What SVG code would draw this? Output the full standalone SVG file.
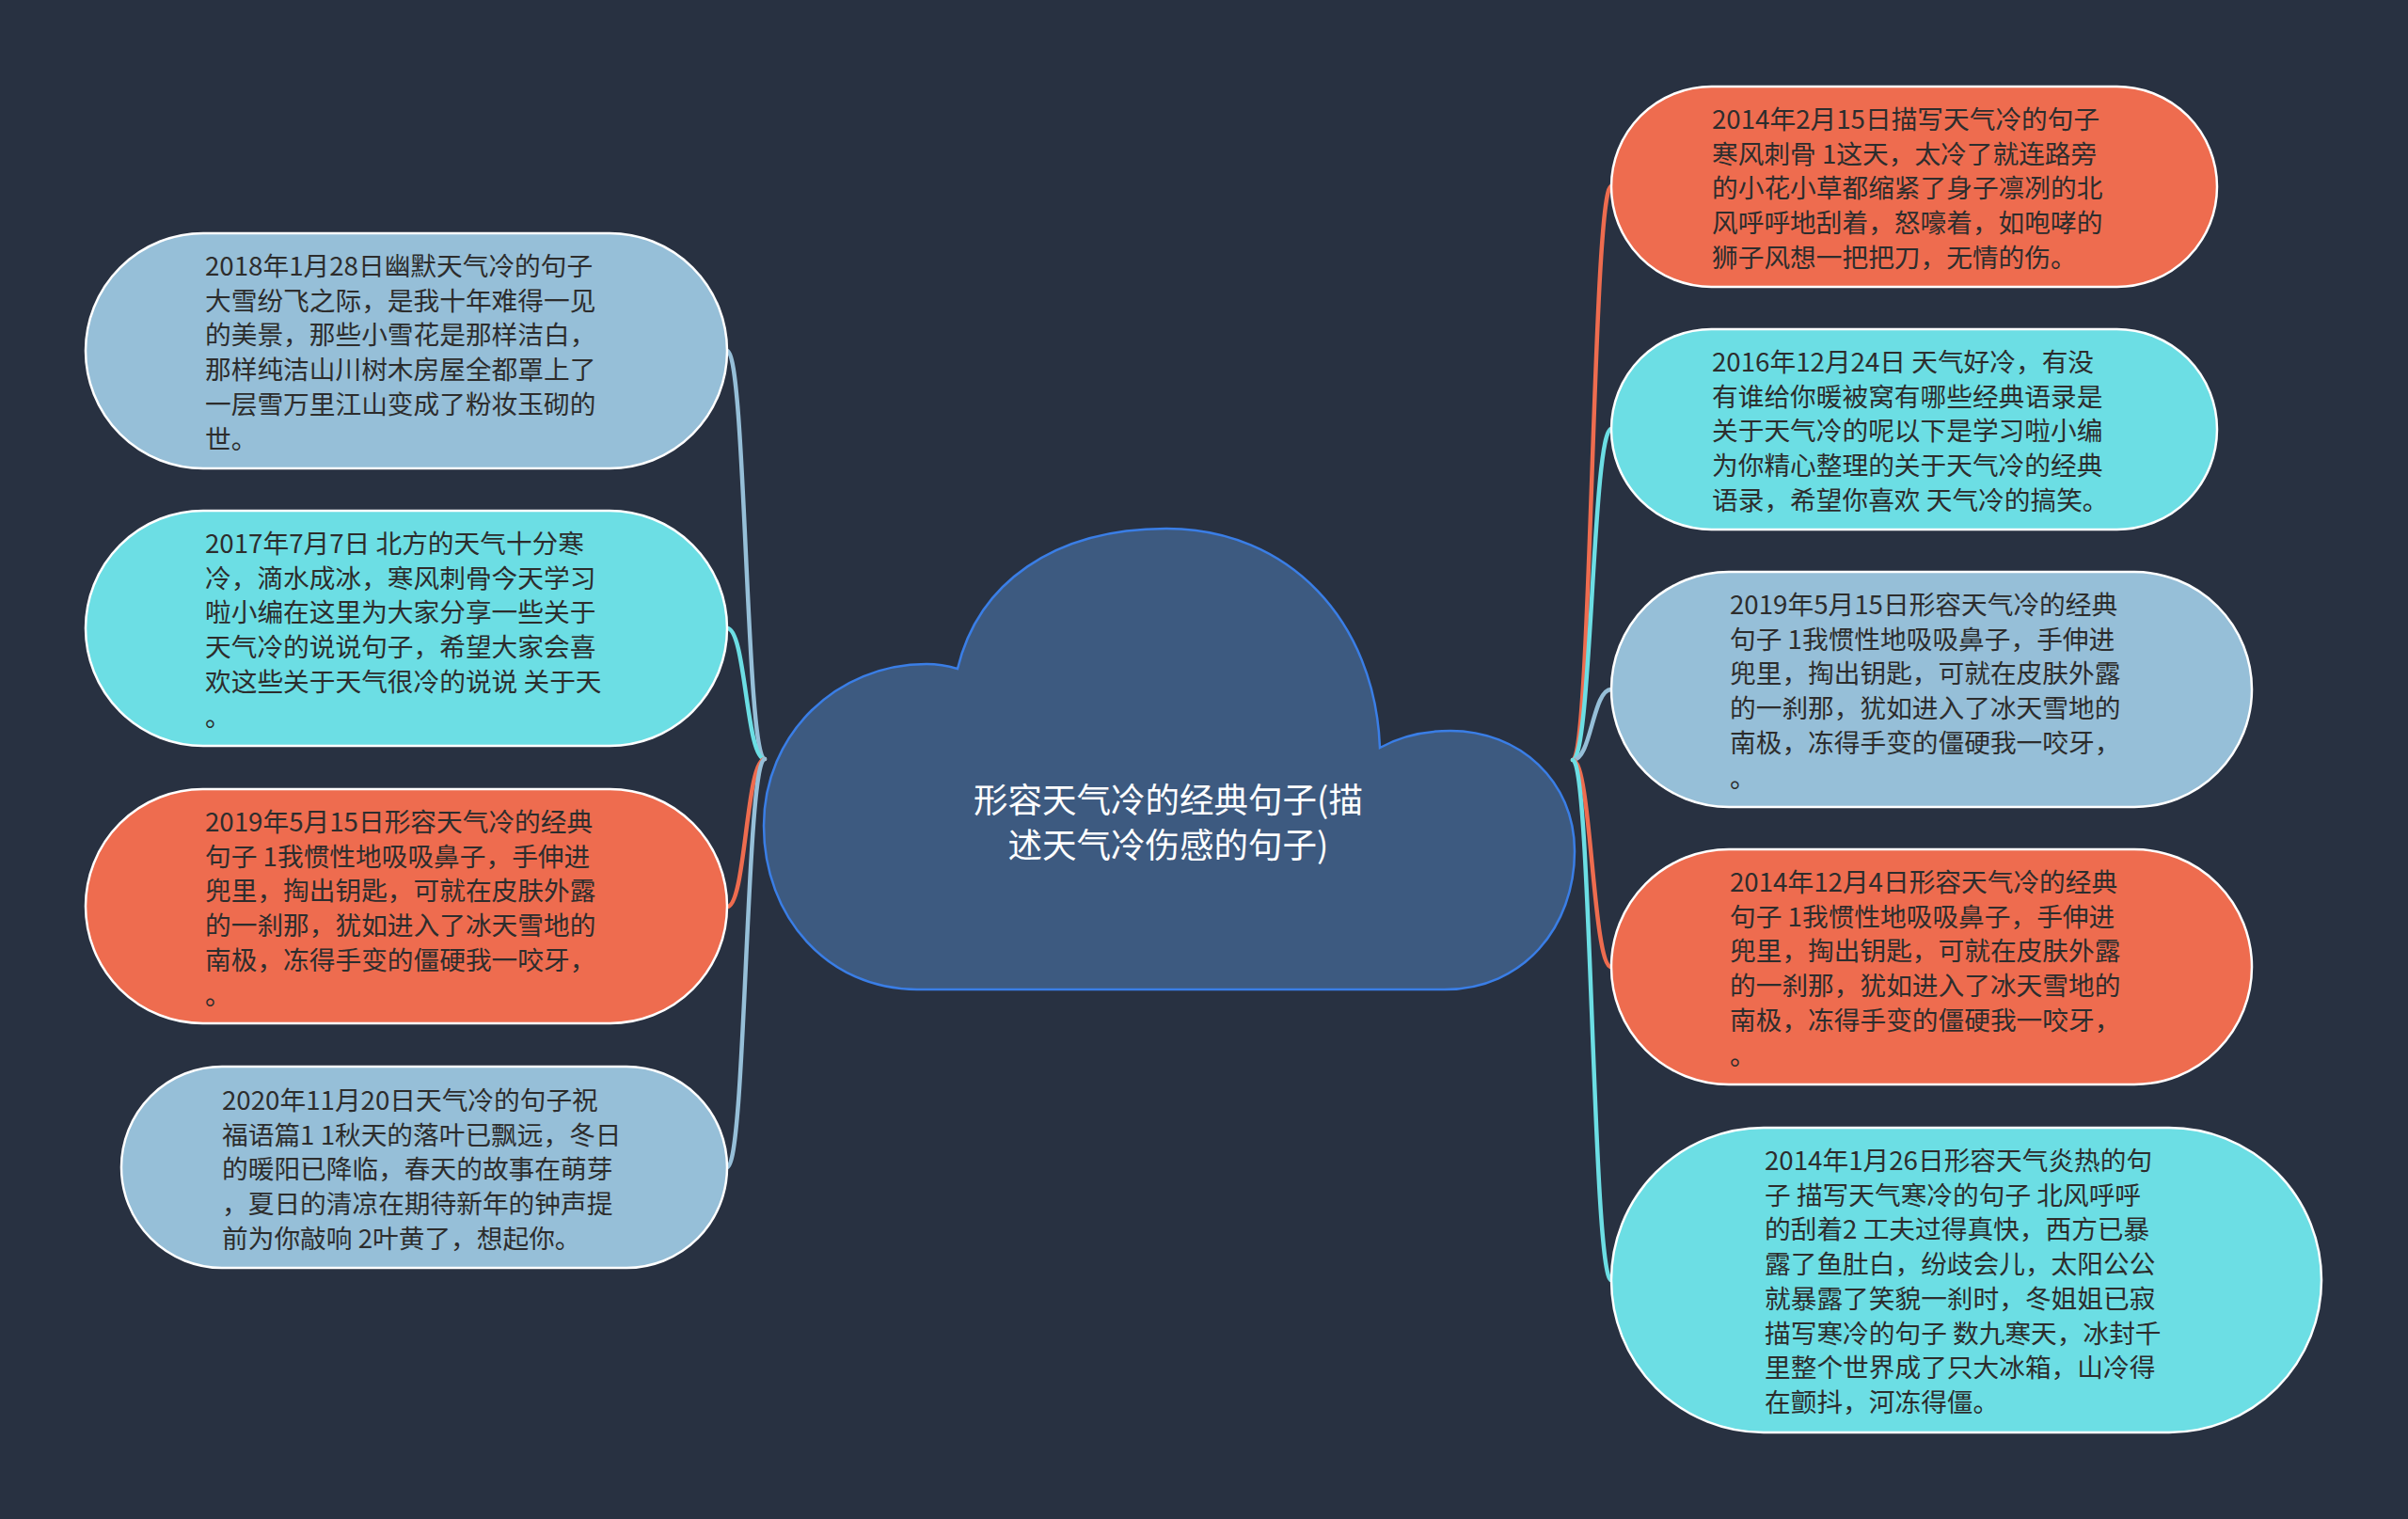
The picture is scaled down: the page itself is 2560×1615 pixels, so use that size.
<svg xmlns="http://www.w3.org/2000/svg" width="2560" height="1615" viewBox="0 0 2560 1615">
<style>
.bg{fill:#283141}
.node{stroke:#ffffff;stroke-width:2.5}
.blue{fill:#96bfd8}
.cyan{fill:#6cdee4}
.orange{fill:#ee6c4f}
.t{font-family:"Noto Sans CJK SC","Noto Sans",sans-serif;font-size:27.7px;fill:#2d2d2d}
.ct{font-family:"Noto Sans CJK SC","Noto Sans",sans-serif;font-size:36.5px;fill:#ffffff;text-anchor:middle}
.c{fill:none;stroke-width:4.5;stroke-linecap:round}
.cb{stroke:#96bfd8}.cc{stroke:#6cdee4}.co{stroke:#ee6c4f}
</style>
<rect class="bg" x="0" y="0" width="2560" height="1615"/>
<g id="connectors">
<path class="c cb" d="M773 373 C793 373 793 807 813 807"/>
<path class="c cc" d="M773 668 C793 668 793 807 813 807"/>
<path class="c co" d="M773 964 C793 964 793 807 813 807"/>
<path class="c cb" d="M773 1241 C793 1241 793 807 813 807"/>
<path class="c co" d="M1672 808 C1692 808 1693 198 1713 198"/>
<path class="c cc" d="M1672 808 C1692 808 1693 456 1713 456"/>
<path class="c cb" d="M1672 808 C1692 808 1693 733 1713 733"/>
<path class="c co" d="M1672 808 C1692 808 1693 1028 1713 1028"/>
<path class="c cc" d="M1672 808 C1692 808 1693 1361 1713 1361"/>
</g>
<g id="center">
<path d="M975 1052 C880 1052 812 975 812 878 C812 780 890 706 985 706 C998 706 1008 708 1018 711 C1040 620 1120 562 1240 562 C1370 562 1462 660 1467 795 C1490 782 1515 777 1542 777 C1615 777 1674 830 1674 905 C1674 985 1620 1052 1536 1052 Z" fill="#3d5a80" stroke="#3a7ee6" stroke-width="2.5"/>
<text class="ct"><tspan x="1242" y="864">形容天气冷的经典句子(描</tspan><tspan x="1242" y="912">述天气冷伤感的句子)</tspan></text>
</g>
<g id="L1">
<rect class="node blue" x="91" y="248" width="682" height="250" rx="125"/>
<text class="t"><tspan x="218" y="293">2018年1月28日幽默天气冷的句子</tspan><tspan x="218" dy="36.7">大雪纷飞之际，是我十年难得一见</tspan><tspan x="218" dy="36.7">的美景，那些小雪花是那样洁白，</tspan><tspan x="218" dy="36.7">那样纯洁山川树木房屋全都罩上了</tspan><tspan x="218" dy="36.7">一层雪万里江山变成了粉妆玉砌的</tspan><tspan x="218" dy="36.7">世。</tspan></text>
</g>
<g id="L2">
<rect class="node cyan" x="91" y="543" width="682" height="250" rx="125"/>
<text class="t"><tspan x="218" y="588">2017年7月7日 北方的天气十分寒</tspan><tspan x="218" dy="36.7">冷，滴水成冰，寒风刺骨今天学习</tspan><tspan x="218" dy="36.7">啦小编在这里为大家分享一些关于</tspan><tspan x="218" dy="36.7">天气冷的说说句子，希望大家会喜</tspan><tspan x="218" dy="36.7">欢这些关于天气很冷的说说 关于天</tspan><tspan x="218" dy="36.7">。</tspan></text>
</g>
<g id="L3">
<rect class="node orange" x="91" y="839" width="682" height="249" rx="124.5"/>
<text class="t"><tspan x="218" y="884">2019年5月15日形容天气冷的经典</tspan><tspan x="218" dy="36.7">句子 1我惯性地吸吸鼻子，手伸进</tspan><tspan x="218" dy="36.7">兜里，掏出钥匙，可就在皮肤外露</tspan><tspan x="218" dy="36.7">的一刹那，犹如进入了冰天雪地的</tspan><tspan x="218" dy="36.7">南极，冻得手变的僵硬我一咬牙，</tspan><tspan x="218" dy="36.7">。</tspan></text>
</g>
<g id="L4">
<rect class="node blue" x="129" y="1134" width="644" height="214" rx="107"/>
<text class="t"><tspan x="236" y="1180">2020年11月20日天气冷的句子祝</tspan><tspan x="236" dy="36.7">福语篇1 1秋天的落叶已飘远，冬日</tspan><tspan x="236" dy="36.7">的暖阳已降临，春天的故事在萌芽</tspan><tspan x="236" dy="36.7">，夏日的清凉在期待新年的钟声提</tspan><tspan x="236" dy="36.7">前为你敲响 2叶黄了，想起你。</tspan></text>
</g>
<g id="R1">
<rect class="node orange" x="1713" y="92" width="644" height="213" rx="106.5"/>
<text class="t"><tspan x="1820" y="137">2014年2月15日描写天气冷的句子</tspan><tspan x="1820" dy="36.7">寒风刺骨 1这天，太冷了就连路旁</tspan><tspan x="1820" dy="36.7">的小花小草都缩紧了身子凛冽的北</tspan><tspan x="1820" dy="36.7">风呼呼地刮着，怒嚎着，如咆哮的</tspan><tspan x="1820" dy="36.7">狮子风想一把把刀，无情的伤。</tspan></text>
</g>
<g id="R2">
<rect class="node cyan" x="1713" y="350" width="644" height="213" rx="106.5"/>
<text class="t"><tspan x="1820" y="395">2016年12月24日 天气好冷，有没</tspan><tspan x="1820" dy="36.7">有谁给你暖被窝有哪些经典语录是</tspan><tspan x="1820" dy="36.7">关于天气冷的呢以下是学习啦小编</tspan><tspan x="1820" dy="36.7">为你精心整理的关于天气冷的经典</tspan><tspan x="1820" dy="36.7">语录，希望你喜欢 天气冷的搞笑。</tspan></text>
</g>
<g id="R3">
<rect class="node blue" x="1713" y="608" width="681" height="250" rx="125"/>
<text class="t"><tspan x="1839" y="653">2019年5月15日形容天气冷的经典</tspan><tspan x="1839" dy="36.7">句子 1我惯性地吸吸鼻子，手伸进</tspan><tspan x="1839" dy="36.7">兜里，掏出钥匙，可就在皮肤外露</tspan><tspan x="1839" dy="36.7">的一刹那，犹如进入了冰天雪地的</tspan><tspan x="1839" dy="36.7">南极，冻得手变的僵硬我一咬牙，</tspan><tspan x="1839" dy="36.7">。</tspan></text>
</g>
<g id="R4">
<rect class="node orange" x="1713" y="903" width="681" height="250" rx="125"/>
<text class="t"><tspan x="1839" y="948">2014年12月4日形容天气冷的经典</tspan><tspan x="1839" dy="36.7">句子 1我惯性地吸吸鼻子，手伸进</tspan><tspan x="1839" dy="36.7">兜里，掏出钥匙，可就在皮肤外露</tspan><tspan x="1839" dy="36.7">的一刹那，犹如进入了冰天雪地的</tspan><tspan x="1839" dy="36.7">南极，冻得手变的僵硬我一咬牙，</tspan><tspan x="1839" dy="36.7">。</tspan></text>
</g>
<g id="R5">
<rect class="node cyan" x="1713" y="1199" width="755" height="324" rx="162"/>
<text class="t"><tspan x="1876" y="1244">2014年1月26日形容天气炎热的句</tspan><tspan x="1876" dy="36.7">子 描写天气寒冷的句子 北风呼呼</tspan><tspan x="1876" dy="36.7">的刮着2 工夫过得真快，西方已暴</tspan><tspan x="1876" dy="36.7">露了鱼肚白，纷歧会儿，太阳公公</tspan><tspan x="1876" dy="36.7">就暴露了笑貌一刹时，冬姐姐已寂</tspan><tspan x="1876" dy="36.7">描写寒冷的句子 数九寒天，冰封千</tspan><tspan x="1876" dy="36.7">里整个世界成了只大冰箱，山冷得</tspan><tspan x="1876" dy="36.7">在颤抖，河冻得僵。</tspan></text>
</g>
</svg>
